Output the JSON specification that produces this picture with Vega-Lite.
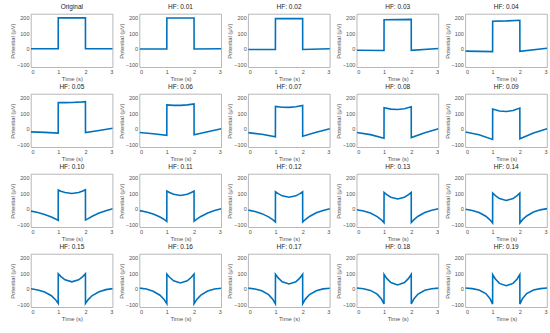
{
 "$schema": "https://vega.github.io/schema/vega-lite/v6.json",
 "padding": {"left": 9, "top": 3, "right": 2, "bottom": 2},
 "background": "white",
 "data": {"values": [
  {"p":"Original","t":0,"v":0},{"p":"Original","t":0.999,"v":0},{"p":"Original","t":1.001,"v":200},{"p":"Original","t":1.999,"v":200},{"p":"Original","t":2.001,"v":0},{"p":"Original","t":3,"v":0},
  {"p":"HF: 0.01","t":0,"v":-1.3},{"p":"HF: 0.01","t":0.999,"v":-1.3},{"p":"HF: 0.01","t":1.001,"v":198.7},{"p":"HF: 0.01","t":1.5,"v":198.7},{"p":"HF: 0.01","t":1.999,"v":198.7},{"p":"HF: 0.01","t":2.001,"v":-1.3},{"p":"HF: 0.01","t":3,"v":0},
  {"p":"HF: 0.02","t":0,"v":-4.8},{"p":"HF: 0.02","t":0.999,"v":-5.1},{"p":"HF: 0.02","t":1.001,"v":194.9},{"p":"HF: 0.02","t":1.5,"v":194.9},{"p":"HF: 0.02","t":1.999,"v":195.5},{"p":"HF: 0.02","t":2.001,"v":-5.1},{"p":"HF: 0.02","t":3,"v":0},
  {"p":"HF: 0.03","t":0,"v":-9.8},{"p":"HF: 0.03","t":0.999,"v":-11},{"p":"HF: 0.03","t":1.001,"v":188},{"p":"HF: 0.03","t":1.5,"v":188.6},{"p":"HF: 0.03","t":1.999,"v":190.5},{"p":"HF: 0.03","t":2.001,"v":-10},{"p":"HF: 0.03","t":3,"v":2},
  {"p":"HF: 0.04","t":0,"v":-15.3},{"p":"HF: 0.04","t":0.999,"v":-18.8},{"p":"HF: 0.04","t":1.001,"v":178.2},{"p":"HF: 0.04","t":1.5,"v":180.2},{"p":"HF: 0.04","t":1.999,"v":184.2},{"p":"HF: 0.04","t":2.001,"v":-17},{"p":"HF: 0.04","t":3,"v":3},
  {"p":"HF: 0.05","t":0,"v":-20},{"p":"HF: 0.05","t":0.5,"v":-23.6},{"p":"HF: 0.05","t":0.999,"v":-27.8},{"p":"HF: 0.05","t":1.001,"v":169.3},{"p":"HF: 0.05","t":1.25,"v":169.1},{"p":"HF: 0.05","t":1.5,"v":170},{"p":"HF: 0.05","t":1.75,"v":172.1},{"p":"HF: 0.05","t":1.999,"v":175.3},{"p":"HF: 0.05","t":2.001,"v":-24},{"p":"HF: 0.05","t":2.5,"v":-11},{"p":"HF: 0.05","t":3,"v":3},
  {"p":"HF: 0.06","t":0,"v":-24.4},{"p":"HF: 0.06","t":0.5,"v":-32.2},{"p":"HF: 0.06","t":0.999,"v":-42.5},{"p":"HF: 0.06","t":1.001,"v":154.5},{"p":"HF: 0.06","t":1.25,"v":151.6},{"p":"HF: 0.06","t":1.5,"v":151.6},{"p":"HF: 0.06","t":1.75,"v":154.6},{"p":"HF: 0.06","t":1.999,"v":160.5},{"p":"HF: 0.06","t":2.001,"v":-39},{"p":"HF: 0.06","t":2.5,"v":-19},{"p":"HF: 0.06","t":3,"v":0},
  {"p":"HF: 0.07","t":0,"v":-25},{"p":"HF: 0.07","t":0.5,"v":-36},{"p":"HF: 0.07","t":0.999,"v":-52.1},{"p":"HF: 0.07","t":1.001,"v":145},{"p":"HF: 0.07","t":1.25,"v":139.3},{"p":"HF: 0.07","t":1.5,"v":138.5},{"p":"HF: 0.07","t":1.75,"v":142.3},{"p":"HF: 0.07","t":1.999,"v":151},{"p":"HF: 0.07","t":2.001,"v":-48},{"p":"HF: 0.07","t":2.5,"v":-22.5},{"p":"HF: 0.07","t":3,"v":0},
  {"p":"HF: 0.08","t":0,"v":-23.8},{"p":"HF: 0.08","t":0.5,"v":-38.1},{"p":"HF: 0.08","t":0.999,"v":-60.9},{"p":"HF: 0.08","t":1.001,"v":136.1},{"p":"HF: 0.08","t":1.25,"v":127},{"p":"HF: 0.08","t":1.5,"v":125},{"p":"HF: 0.08","t":1.75,"v":130},{"p":"HF: 0.08","t":1.999,"v":142.1},{"p":"HF: 0.08","t":2.001,"v":-57},{"p":"HF: 0.08","t":2.5,"v":-25.5},{"p":"HF: 0.08","t":3,"v":0},
  {"p":"HF: 0.09","t":0,"v":-21.5},{"p":"HF: 0.09","t":0.5,"v":-38.4},{"p":"HF: 0.09","t":0.999,"v":-68.8},{"p":"HF: 0.09","t":1.001,"v":128.2},{"p":"HF: 0.09","t":1.25,"v":115},{"p":"HF: 0.09","t":1.5,"v":111.7},{"p":"HF: 0.09","t":1.75,"v":118},{"p":"HF: 0.09","t":1.999,"v":134.2},{"p":"HF: 0.09","t":2.001,"v":-65},{"p":"HF: 0.09","t":2.5,"v":-27},{"p":"HF: 0.09","t":3,"v":0},
  {"p":"HF: 0.10","t":0,"v":-15},{"p":"HF: 0.10","t":0.25,"v":-24.5},{"p":"HF: 0.10","t":0.5,"v":-36.5},{"p":"HF: 0.10","t":0.75,"v":-53.1},{"p":"HF: 0.10","t":0.9,"v":-65.7},{"p":"HF: 0.10","t":0.999,"v":-75.7},{"p":"HF: 0.10","t":1.001,"v":121},{"p":"HF: 0.10","t":1.1,"v":113.5},{"p":"HF: 0.10","t":1.25,"v":104.8},{"p":"HF: 0.10","t":1.5,"v":98.6},{"p":"HF: 0.10","t":1.75,"v":104.8},{"p":"HF: 0.10","t":1.9,"v":114.8},{"p":"HF: 0.10","t":1.999,"v":123},{"p":"HF: 0.10","t":2.001,"v":-73},{"p":"HF: 0.10","t":2.1,"v":-63.9},{"p":"HF: 0.10","t":2.25,"v":-48.5},{"p":"HF: 0.10","t":2.5,"v":-28.1},{"p":"HF: 0.10","t":2.75,"v":-12.4},{"p":"HF: 0.10","t":3,"v":0},
  {"p":"HF: 0.11","t":0,"v":-12},{"p":"HF: 0.11","t":0.25,"v":-21.5},{"p":"HF: 0.11","t":0.5,"v":-34.5},{"p":"HF: 0.11","t":0.75,"v":-53.5},{"p":"HF: 0.11","t":0.9,"v":-68.8},{"p":"HF: 0.11","t":0.999,"v":-81.5},{"p":"HF: 0.11","t":1.001,"v":115},{"p":"HF: 0.11","t":1.1,"v":105.4},{"p":"HF: 0.11","t":1.25,"v":93.9},{"p":"HF: 0.11","t":1.5,"v":86.1},{"p":"HF: 0.11","t":1.75,"v":93.9},{"p":"HF: 0.11","t":1.9,"v":105.4},{"p":"HF: 0.11","t":1.999,"v":115},{"p":"HF: 0.11","t":2.001,"v":-80},{"p":"HF: 0.11","t":2.1,"v":-67.3},{"p":"HF: 0.11","t":2.25,"v":-49.7},{"p":"HF: 0.11","t":2.5,"v":-27.5},{"p":"HF: 0.11","t":2.75,"v":-11.7},{"p":"HF: 0.11","t":3,"v":0},
  {"p":"HF: 0.12","t":0,"v":-9},{"p":"HF: 0.12","t":0.25,"v":-18},{"p":"HF: 0.12","t":0.5,"v":-31.5},{"p":"HF: 0.12","t":0.75,"v":-52.6},{"p":"HF: 0.12","t":0.9,"v":-70.7},{"p":"HF: 0.12","t":0.999,"v":-86.2},{"p":"HF: 0.12","t":1.001,"v":110},{"p":"HF: 0.12","t":1.1,"v":97.9},{"p":"HF: 0.12","t":1.25,"v":83.7},{"p":"HF: 0.12","t":1.5,"v":74.4},{"p":"HF: 0.12","t":1.75,"v":83.7},{"p":"HF: 0.12","t":1.9,"v":97.9},{"p":"HF: 0.12","t":1.999,"v":110},{"p":"HF: 0.12","t":2.001,"v":-85},{"p":"HF: 0.12","t":2.1,"v":-69.5},{"p":"HF: 0.12","t":2.25,"v":-49.6},{"p":"HF: 0.12","t":2.5,"v":-26.1},{"p":"HF: 0.12","t":2.75,"v":-10.7},{"p":"HF: 0.12","t":3,"v":0},
  {"p":"HF: 0.13","t":0,"v":-6},{"p":"HF: 0.13","t":0.25,"v":-14.5},{"p":"HF: 0.13","t":0.5,"v":-28},{"p":"HF: 0.13","t":0.75,"v":-50.7},{"p":"HF: 0.13","t":0.9,"v":-71.5},{"p":"HF: 0.13","t":0.999,"v":-89.9},{"p":"HF: 0.13","t":1.001,"v":106},{"p":"HF: 0.13","t":1.1,"v":91.3},{"p":"HF: 0.13","t":1.25,"v":74.4},{"p":"HF: 0.13","t":1.5,"v":63.6},{"p":"HF: 0.13","t":1.75,"v":74.4},{"p":"HF: 0.13","t":1.9,"v":91.3},{"p":"HF: 0.13","t":1.999,"v":106},{"p":"HF: 0.13","t":2.001,"v":-89},{"p":"HF: 0.13","t":2.1,"v":-70.6},{"p":"HF: 0.13","t":2.25,"v":-48.4},{"p":"HF: 0.13","t":2.5,"v":-24},{"p":"HF: 0.13","t":2.75,"v":-9.3},{"p":"HF: 0.13","t":3,"v":0},
  {"p":"HF: 0.14","t":0,"v":-3},{"p":"HF: 0.14","t":0.25,"v":-11},{"p":"HF: 0.14","t":0.5,"v":-24.5},{"p":"HF: 0.14","t":0.75,"v":-48.1},{"p":"HF: 0.14","t":0.9,"v":-71.3},{"p":"HF: 0.14","t":0.999,"v":-92.7},{"p":"HF: 0.14","t":1.001,"v":102},{"p":"HF: 0.14","t":1.1,"v":85.4},{"p":"HF: 0.14","t":1.25,"v":65.9},{"p":"HF: 0.14","t":1.5,"v":53.9},{"p":"HF: 0.14","t":1.75,"v":65.9},{"p":"HF: 0.14","t":1.9,"v":85.4},{"p":"HF: 0.14","t":1.999,"v":102},{"p":"HF: 0.14","t":2.001,"v":-92},{"p":"HF: 0.14","t":2.1,"v":-70.6},{"p":"HF: 0.14","t":2.25,"v":-46.4},{"p":"HF: 0.14","t":2.5,"v":-21.6},{"p":"HF: 0.14","t":2.75,"v":-7},{"p":"HF: 0.14","t":3,"v":1},
  {"p":"HF: 0.15","t":0,"v":0},{"p":"HF: 0.15","t":0.25,"v":-7.5},{"p":"HF: 0.15","t":0.5,"v":-20.5},{"p":"HF: 0.15","t":0.75,"v":-45.1},{"p":"HF: 0.15","t":0.9,"v":-70.5},{"p":"HF: 0.15","t":0.999,"v":-94.9},{"p":"HF: 0.15","t":1.001,"v":97},{"p":"HF: 0.15","t":1.1,"v":79},{"p":"HF: 0.15","t":1.25,"v":58.2},{"p":"HF: 0.15","t":1.5,"v":45.1},{"p":"HF: 0.15","t":1.75,"v":58.2},{"p":"HF: 0.15","t":1.9,"v":79},{"p":"HF: 0.15","t":1.999,"v":97},{"p":"HF: 0.15","t":2.001,"v":-94.9},{"p":"HF: 0.15","t":2.1,"v":-70},{"p":"HF: 0.15","t":2.25,"v":-43.9},{"p":"HF: 0.15","t":2.5,"v":-19},{"p":"HF: 0.15","t":2.75,"v":-5.5},{"p":"HF: 0.15","t":3,"v":1},
  {"p":"HF: 0.16","t":0,"v":4},{"p":"HF: 0.16","t":0.25,"v":-2},{"p":"HF: 0.16","t":0.5,"v":-16},{"p":"HF: 0.16","t":0.75,"v":-41.8},{"p":"HF: 0.16","t":0.9,"v":-69},{"p":"HF: 0.16","t":0.999,"v":-96.5},{"p":"HF: 0.16","t":1.001,"v":95},{"p":"HF: 0.16","t":1.1,"v":74.5},{"p":"HF: 0.16","t":1.25,"v":51.4},{"p":"HF: 0.16","t":1.5,"v":37.4},{"p":"HF: 0.16","t":1.75,"v":51.4},{"p":"HF: 0.16","t":1.9,"v":74.5},{"p":"HF: 0.16","t":1.999,"v":95},{"p":"HF: 0.16","t":2.001,"v":-96.5},{"p":"HF: 0.16","t":2.1,"v":-68.7},{"p":"HF: 0.16","t":2.25,"v":-40.9},{"p":"HF: 0.16","t":2.5,"v":-15},{"p":"HF: 0.16","t":2.75,"v":-2},{"p":"HF: 0.16","t":3,"v":3},
  {"p":"HF: 0.17","t":0,"v":4},{"p":"HF: 0.17","t":0.25,"v":-1},{"p":"HF: 0.17","t":0.5,"v":-13},{"p":"HF: 0.17","t":0.75,"v":-38.3},{"p":"HF: 0.17","t":0.9,"v":-67.1},{"p":"HF: 0.17","t":0.999,"v":-97.6},{"p":"HF: 0.17","t":1.001,"v":94},{"p":"HF: 0.17","t":1.1,"v":70.5},{"p":"HF: 0.17","t":1.25,"v":45.2},{"p":"HF: 0.17","t":1.5,"v":30.7},{"p":"HF: 0.17","t":1.75,"v":45.2},{"p":"HF: 0.17","t":1.9,"v":70.5},{"p":"HF: 0.17","t":1.999,"v":94},{"p":"HF: 0.17","t":2.001,"v":-97.6},{"p":"HF: 0.17","t":2.1,"v":-66.9},{"p":"HF: 0.17","t":2.25,"v":-37.7},{"p":"HF: 0.17","t":2.5,"v":-12.5},{"p":"HF: 0.17","t":2.75,"v":-1},{"p":"HF: 0.17","t":3,"v":3},
  {"p":"HF: 0.18","t":0,"v":5},{"p":"HF: 0.18","t":0.25,"v":0},{"p":"HF: 0.18","t":0.5,"v":-10.5},{"p":"HF: 0.18","t":0.75,"v":-34.8},{"p":"HF: 0.18","t":0.9,"v":-64.9},{"p":"HF: 0.18","t":0.999,"v":-98.4},{"p":"HF: 0.18","t":1.001,"v":93},{"p":"HF: 0.18","t":1.1,"v":67},{"p":"HF: 0.18","t":1.25,"v":39.8},{"p":"HF: 0.18","t":1.5,"v":25},{"p":"HF: 0.18","t":1.75,"v":39.8},{"p":"HF: 0.18","t":1.9,"v":67},{"p":"HF: 0.18","t":1.999,"v":93},{"p":"HF: 0.18","t":2.001,"v":-98.4},{"p":"HF: 0.18","t":2.1,"v":-64.7},{"p":"HF: 0.18","t":2.25,"v":-34.4},{"p":"HF: 0.18","t":2.5,"v":-10},{"p":"HF: 0.18","t":2.75,"v":0},{"p":"HF: 0.18","t":3,"v":4},
  {"p":"HF: 0.19","t":0,"v":5},{"p":"HF: 0.19","t":0.25,"v":1},{"p":"HF: 0.19","t":0.5,"v":-8.5},{"p":"HF: 0.19","t":0.75,"v":-31.3},{"p":"HF: 0.19","t":0.9,"v":-62.5},{"p":"HF: 0.19","t":0.999,"v":-99},{"p":"HF: 0.19","t":1.001,"v":92},{"p":"HF: 0.19","t":1.1,"v":63.5},{"p":"HF: 0.19","t":1.25,"v":34.8},{"p":"HF: 0.19","t":1.5,"v":20.1},{"p":"HF: 0.19","t":1.75,"v":34.8},{"p":"HF: 0.19","t":1.9,"v":63.5},{"p":"HF: 0.19","t":1.999,"v":92},{"p":"HF: 0.19","t":2.001,"v":-99},{"p":"HF: 0.19","t":2.1,"v":-62.4},{"p":"HF: 0.19","t":2.25,"v":-31.1},{"p":"HF: 0.19","t":2.5,"v":-8},{"p":"HF: 0.19","t":2.75,"v":1},{"p":"HF: 0.19","t":3,"v":5}
 ]},
 "facet": {
  "field": "p", "type": "nominal",
  "sort": ["Original","HF: 0.01","HF: 0.02","HF: 0.03","HF: 0.04","HF: 0.05","HF: 0.06","HF: 0.07","HF: 0.08","HF: 0.09","HF: 0.10","HF: 0.11","HF: 0.12","HF: 0.13","HF: 0.14","HF: 0.15","HF: 0.16","HF: 0.17","HF: 0.18","HF: 0.19"],
  "header": {"title": null, "labelFontSize": 6.5, "labelFont": "Liberation Sans", "labelColor": "#222222", "labelPadding": 4}
 },
 "columns": 5,
 "spacing": {"row": 26, "column": 26.6},
 "bounds": "flush",
 "resolve": {"axis": {"x": "independent", "y": "independent"}},
 "spec": {
  "width": 81.7,
  "height": 53.3,
  "mark": {"type": "line", "color": "#0072BD", "strokeWidth": 1.6, "clip": true},
  "encoding": {
   "x": {"field": "t", "type": "quantitative", "scale": {"domain": [0, 3], "nice": false}, "axis": {"values": [0, 1, 2, 3], "title": "Time (s)"}},
   "y": {"field": "v", "type": "quantitative", "scale": {"domain": [-120, 225], "nice": false, "zero": false}, "axis": {"values": [-100, 0, 100, 200], "title": "Potential (μV)"}}
  }
 },
 "config": {
  "view": {"stroke": "#9a9a9a", "strokeWidth": 0.7},
  "axis": {"grid": false, "ticks": false, "domain": false, "labelFontSize": 5.5, "labelFont": "Liberation Sans", "labelColor": "#505050", "titleFontSize": 5.8, "titleFont": "Liberation Sans", "titleFontWeight": "normal", "titleColor": "#505050", "labelPadding": 2, "titlePadding": 1}
 }
}
